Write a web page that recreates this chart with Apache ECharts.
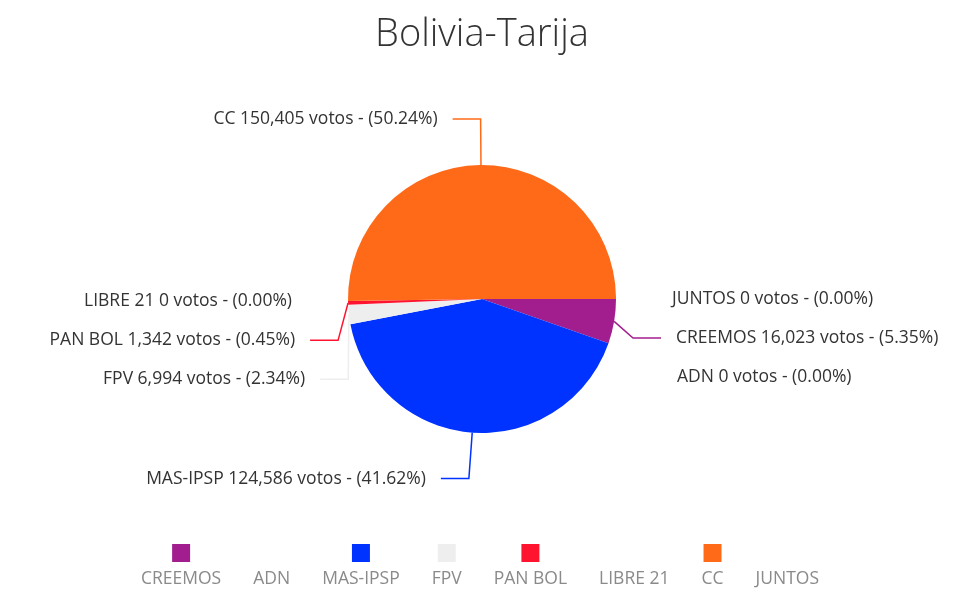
<!DOCTYPE html>
<html>
<head>
<meta charset="UTF-8">
<title>Bolivia-Tarija</title>
<script src="https://cdn.jsdelivr.net/npm/echarts@6/dist/echarts.min.js"></script>
<style>
  html, body { margin: 0; padding: 0; background: #fff; }
  #main { width: 980px; height: 606px; }
</style>
</head>
<body>
<div id="main"></div>
<script>
// datos
var partidos = ['CREEMOS', 'ADN', 'MAS-IPSP', 'FPV', 'PAN BOL', 'LIBRE 21', 'CC', 'JUNTOS'];
var votos = [16023, 0, 124586, 6994, 1342, 0, 150405, 0];
var colores = ['#a21e8f', '#ffffff', '#0033ff', '#eeeeee', '#ff1430', '#ffffff', '#ff6a19', '#ffffff'];

var chart = echarts.init(document.getElementById('main'));

// estilos rich para el icono de la leyenda (cuadro encima del texto)
var rich = { t: { fontSize: 17.5, color: '#8a8a8a', fontFamily: 'Open Sans', lineHeight: 34 } };
partidos.forEach(function (p, i) {
  rich['i' + i] = { width: 18, height: 18, backgroundColor: colores[i], align: 'center' };
});

// la linea de la etiqueta es mas larga arriba y abajo del pastel
var total = votos.reduce(function (a, b) { return a + b; }, 0);
var acum = 0;
var largos = votos.map(function (v) {
  var medio = (acum + v / 2) / total * 2 * Math.PI;
  acum += v;
  return Math.round(18 + 28 * Math.abs(Math.sin(medio)));
});

var option = {
  backgroundColor: '#fff',
  title: {
    text: 'Bolivia-Tarija',
    left: 477,
    textAlign: 'center',
    top: 11,
    textStyle: { color: '#333', fontSize: 38, fontWeight: 300, fontFamily: 'Open Sans' }
  },
  legend: {
    bottom: 13,
    left: 131,
    icon: 'none',
    itemWidth: 0,
    itemGap: 27,
    data: partidos,
    formatter: function (name) {
      var i = partidos.indexOf(name);
      return '{i' + i + '|}\n{t|' + name + '}';
    },
    textStyle: { rich: rich }
  },
  series: [{
    type: 'pie',
    center: [482, 299],
    radius: 134,
    startAngle: 0,
    clockwise: true,
    avoidLabelOverlap: true,
    label: {
      show: true,
      color: '#333',
      fontSize: 17.5,
      lineHeight: 37,
      fontFamily: 'Open Sans',
      padding: [0, 10],
      formatter: function (p) {
        return p.name + ' ' + p.value.toLocaleString('en-US') + ' votos - (' + p.percent.toFixed(2) + '%)';
      }
    },
    labelLine: { show: true, length2: 28, lineStyle: { width: 1.5 } },
    emphasis: { scale: false },
    data: partidos.map(function (p, i) {
      return { name: p, value: votos[i], itemStyle: { color: colores[i] }, labelLine: { length: largos[i] } };
    })
  }]
};

chart.setOption(option);
</script>
</body>
</html>
